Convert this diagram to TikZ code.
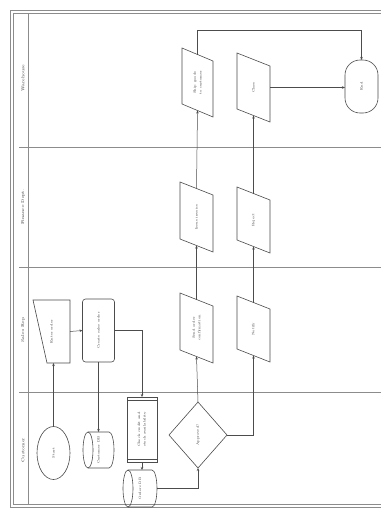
\documentclass[tikz,border=0pt]{standalone}
\usetikzlibrary{arrows.meta,shapes.geometric,calc}
\begin{document}
\begin{tikzpicture}[x=1pt,y=1pt,
  ln/.style={draw=black!70, line width=0.6pt},
  lane/.style={draw=black!45, line width=0.9pt},
  conn/.style={draw=black!70, line width=0.5pt, -{Stealth[length=3pt,width=2.5pt]}},
  box/.style 2 args={minimum width=#1pt, minimum height=#2pt, inner sep=0pt, outer sep=0pt},
  txt/.style={font=\fontsize{3.4}{4}\selectfont, text=black!80, align=center},
  lanetxt/.style={font=\fontsize{4.2}{5}\selectfont, text=black!80}
]
\useasboundingbox (0,0) rectangle (381,-512);
\fill[white] (0,0) rectangle (381,-512);

% frame
\draw[lane] (10,-10) -- (381,-10);
\draw[lane, line width=0.5pt] (13,-13) -- (381,-13);
\draw[lane] (10,-10) -- (10,-507) -- (381,-507);
\draw[lane, line width=0.5pt] (13,-13) -- (13,-504) -- (381,-504);
\draw[lane] (28,-13) -- (28,-504);
% lane dividers
\draw[lane] (19,-147) -- (381,-147);
\draw[lane] (19,-267) -- (381,-267);
\draw[lane] (19,-392) -- (381,-392);

% lane labels
\node[lanetxt, rotate=90] (l1) at (23,-78) {Warehouse};
\node[lanetxt, rotate=90] (l2) at (23,-207) {Finance Dept.};
\node[lanetxt, rotate=90] (l3) at (23,-330) {Sales Rep};
\node[lanetxt, rotate=90] (l4) at (23,-450) {Customer};

% ---- nodes ----
\node[ellipse, ln, minimum width=33pt, minimum height=53pt, inner sep=0pt, txt] (start) at (53.5,-453) {\rotatebox{90}{Start}};
\node[box={31}{36}, txt] (db1) at (98.5,-450) {\rotatebox{90}{Customer DB}};
\node[box={30}{65}, txt] (proc) at (142,-429.5) {\rotatebox{90}{\shortstack{Check credit and\\stock availability}}};
\node[box={34}{37}, txt] (db2) at (140,-488.5) {\rotatebox{90}{Orders DB}};
\node[box={58}{66}, txt] (dec) at (198,-435) {\rotatebox{90}{Approved?}};
\node[box={37}{63}, txt] (manual) at (51.5,-331.5) {\rotatebox{90}{Enter order}};
\node[box={32}{63}, draw=black!70, line width=0.6pt, rounded corners=3pt, txt] (task) at (98.5,-330.5) {\rotatebox{90}{Create sales order}};

\node[box={33}{70}, txt] (p3a) at (196.5,-328) {\rotatebox{90}{\shortstack{Send order\\confirmation}}};
\node[box={33}{66}, txt] (p3b) at (253.5,-329) {\rotatebox{90}{Notify}};
\node[box={33}{70}, txt] (p2a) at (196.5,-217) {\rotatebox{90}{\shortstack{Issue invoice}}};
\node[box={33}{66}, txt] (p2b) at (253.5,-220) {\rotatebox{90}{Reject}};
\node[box={31}{69}, txt] (p1a) at (197.5,-82.5) {\rotatebox{90}{\shortstack{Ship goods\\to customer}}};
\node[box={33}{69}, txt] (p1b) at (253.5,-87.5) {\rotatebox{90}{Close}};
\node[box={33}{53}, draw=black!70, line width=0.6pt, rounded corners=15pt, txt] (end) at (361.5,-86.5) {\rotatebox{90}{End}};

% ---- shapes drawn around nodes ----
% manual operation
\draw[ln] (manual.north west) -- (manual.north east) -- (manual.south east) -- ([xshift=14pt]manual.south west) -- cycle;
% process
\draw[ln] (proc.north west) rectangle (proc.south east);
\draw[ln] ([yshift=-3pt]proc.north west) -- ([yshift=-3pt]proc.north east);
\draw[ln] ([yshift=3pt]proc.south west) -- ([yshift=3pt]proc.south east);
% decision
\draw[ln] (dec.north) -- (dec.east) -- (dec.south) -- (dec.west) -- cycle;
% databases (cylinders lying sideways)
\draw[ln] ([xshift=5pt]db1.north west) -- ([xshift=-5pt]db1.north east)
  arc[start angle=90, end angle=-90, x radius=5pt, y radius=18pt]
  -- ([xshift=5pt]db1.south west)
  arc[start angle=270, end angle=90, x radius=5pt, y radius=18pt] -- cycle;
\draw[ln] ([xshift=5pt]db1.north west) arc[start angle=90, end angle=-90, x radius=5pt, y radius=18pt];
\draw[ln] ([xshift=5pt]db2.north west) -- ([xshift=-5pt]db2.north east)
  arc[start angle=90, end angle=-90, x radius=5pt, y radius=18.5pt]
  -- ([xshift=5pt]db2.south west)
  arc[start angle=270, end angle=90, x radius=5pt, y radius=18.5pt] -- cycle;
\draw[ln] ([xshift=5pt]db2.north west) arc[start angle=90, end angle=-90, x radius=5pt, y radius=18.5pt];
% data parallelograms
\foreach \p in {p1a,p1b,p2a,p2b,p3a,p3b}{
  \draw[ln] (\p.north west) -- ([yshift=-13pt]\p.north east) -- (\p.south east) -- ([yshift=13pt]\p.south west) -- cycle;
  \coordinate (\p-t) at ([yshift=-6.5pt]\p.north);
  \coordinate (\p-b) at ([yshift=6.5pt]\p.south);
}

% ---- connectors ----
\draw[conn] (start.north) -- (start.north |- manual.south);
\draw[conn] (manual.east) -- (task.west);
\draw[conn] (task.south) -- (db1.north);
\draw[conn] (task.east) -| (proc.north);
\draw[conn] (proc.south) -- (proc.south |- db2.north);
\draw[conn] (db2.east) -| (dec.south);
\draw[conn] (dec.north) -- (p3a-b);
\draw[conn] (dec.east) -| (p3b-b);
\draw[conn] (p3a-t) -- (p2a-b);
\draw[conn] (p2a-t) -- (p1a-b);
\draw[conn] (p3b-t) -- (p2b-b);
\draw[conn] (p2b-t) -- (p1b-b);
\draw[conn] (p1a-t) |- ([yshift=30pt]end.north) -- (end.north);
\draw[conn] (p1b.east) -- (p1b.east -| end.west);
\end{tikzpicture}
\end{document}
